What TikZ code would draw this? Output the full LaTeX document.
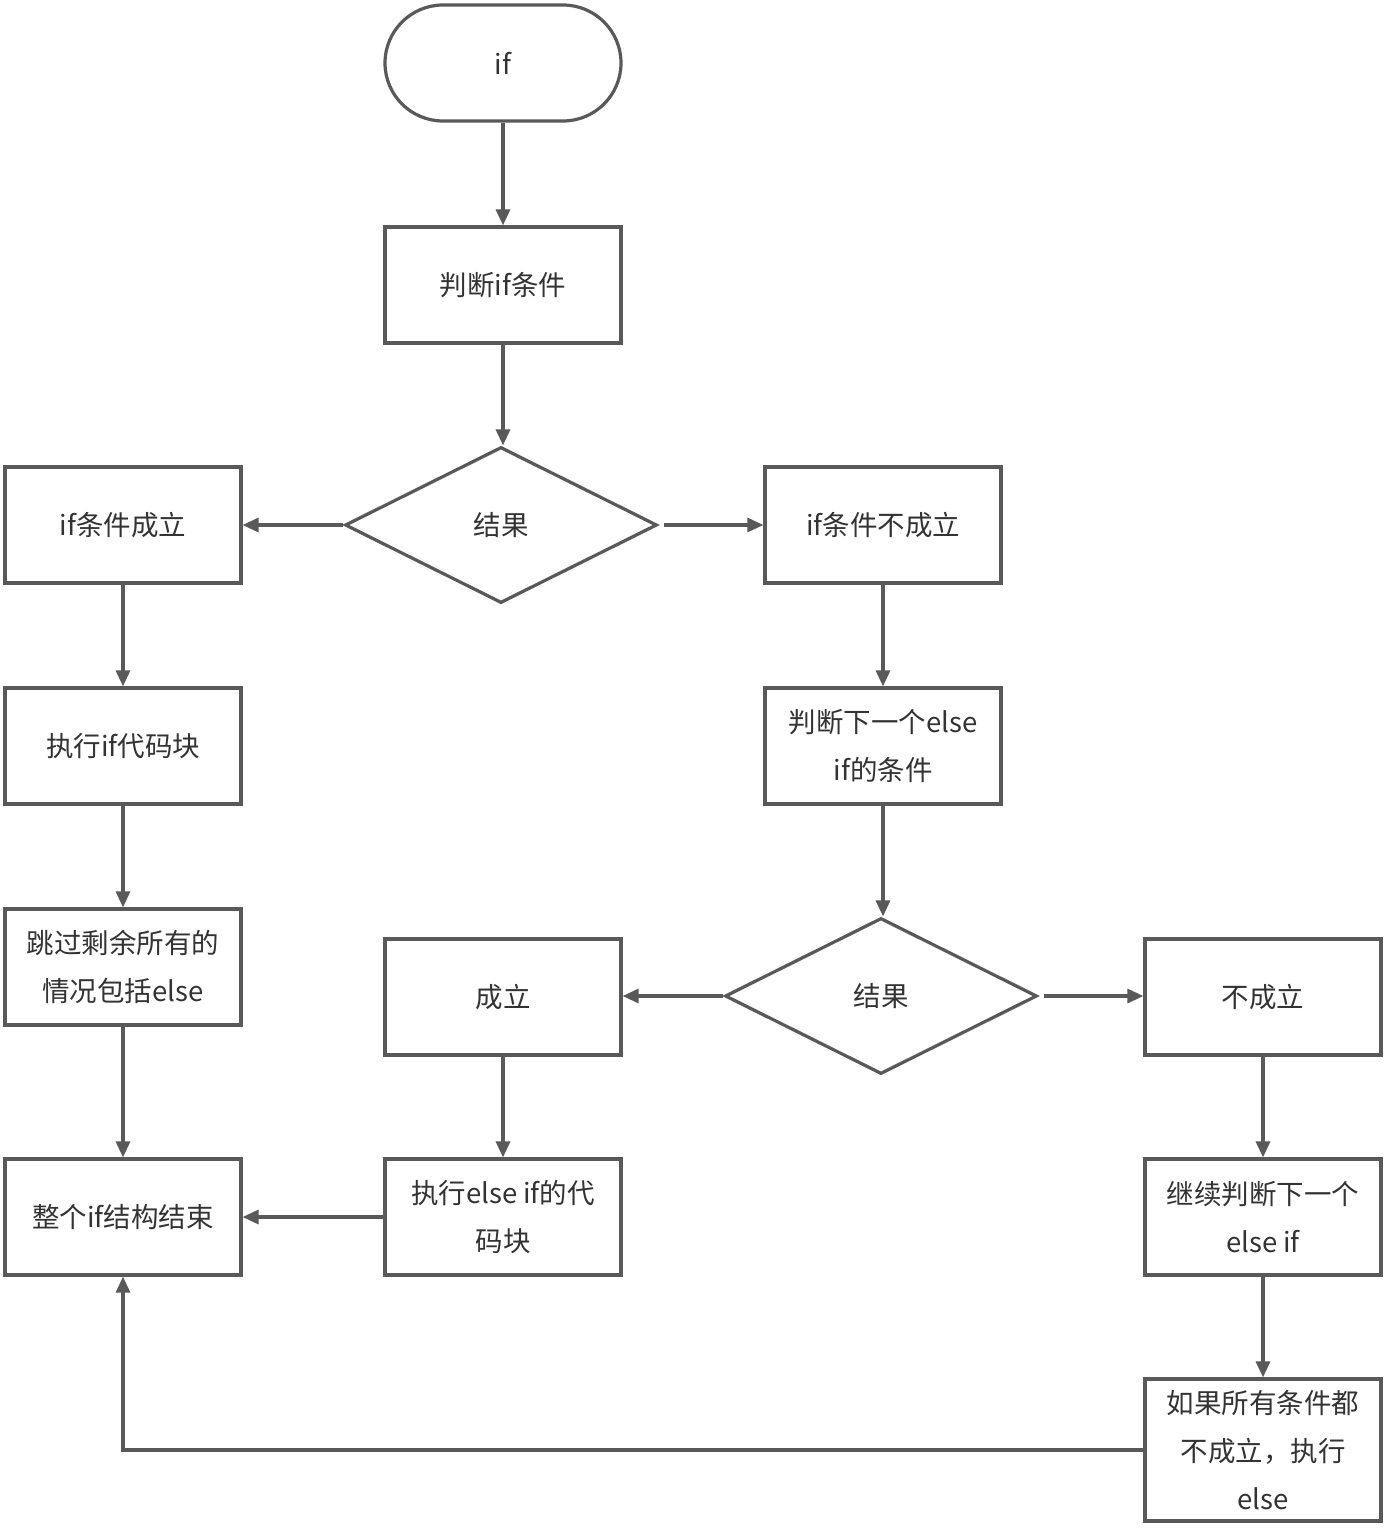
\documentclass[tikz,border=0pt]{standalone}
\usepackage{fontspec}
\setmainfont{Noto Sans CJK SC}
\usetikzlibrary{shapes.geometric,arrows.meta}
\definecolor{ln}{HTML}{595959}
\definecolor{tx}{HTML}{333333}
\begin{document}
\begin{tikzpicture}[x=1pt,y=-1pt,
  box/.style={draw=ln,line width=3.2pt,rectangle,minimum width=236pt,minimum height=116pt,inner sep=0pt,align=center,text=tx,font=\fontsize{27.5}{48}\selectfont},
  term/.style={box,rounded corners=58pt},
  dia/.style={draw=ln,line width=3.2pt,diamond,aspect=2,minimum width=312pt,minimum height=156pt,inner sep=0pt,text=tx,font=\fontsize{27.5}{48}\selectfont},
  arr/.style={draw=ln,line width=3.2pt,-{Triangle[length=16pt,width=14pt]}}]
\useasboundingbox[fill=white] (0,0) rectangle (1386,1528);
\node[term] (start) at (503,63) {if};
\node[box] (cond) at (503,285) {判断if条件};
\node[dia] (d1) at (501,525) {结果};
\node[box] (ok1) at (123,525) {if条件成立};
\node[box] (no1) at (883,525) {if条件不成立};
\node[box] (exec1) at (123,746) {执行if代码块};
\node[box] (next) at (883,746) {判断下一个else\\if的条件};
\node[box] (skip) at (123,967) {跳过剩余所有的\\情况包括else};
\node[dia] (d2) at (881,996) {结果};
\node[box] (ok2) at (503,997) {成立};
\node[box] (no2) at (1263,997) {不成立};
\node[box] (fin) at (123,1217) {整个if结构结束};
\node[box] (exec2) at (503,1217) {执行else if的代\\码块};
\node[box] (cont) at (1263,1217) {继续判断下一个\\else if};
\node[box,minimum height=142pt] (last) at (1263,1450) {如果所有条件都\\不成立，执行\\else};
\coordinate (corner) at (123,1450);
\draw[arr] (start) -- (cond);
\draw[arr] (cond.south) -- (cond.south |- d1.north);
\draw[arr] (d1.west) -- (ok1.east);
\draw[arr,shorten <=5pt] (d1.east) -- (no1.west);
\draw[arr] (ok1) -- (exec1);
\draw[arr] (exec1) -- (skip);
\draw[arr] (skip) -- (fin);
\draw[arr] (no1) -- (next);
\draw[arr] (next.south) -- (next.south |- d2.north);
\draw[arr] (d2.west) -- (d2.west -| ok2.east);
\draw[arr,shorten <=5pt] (d2.east) -- (d2.east -| no2.west);
\draw[arr] (ok2) -- (exec2);
\draw[arr] (exec2) -- (fin);
\draw[arr] (no2) -- (cont);
\draw[arr] (cont) -- (last);
\draw[arr] (last.west) -- (corner) -- (fin.south);
\end{tikzpicture}
\end{document}
